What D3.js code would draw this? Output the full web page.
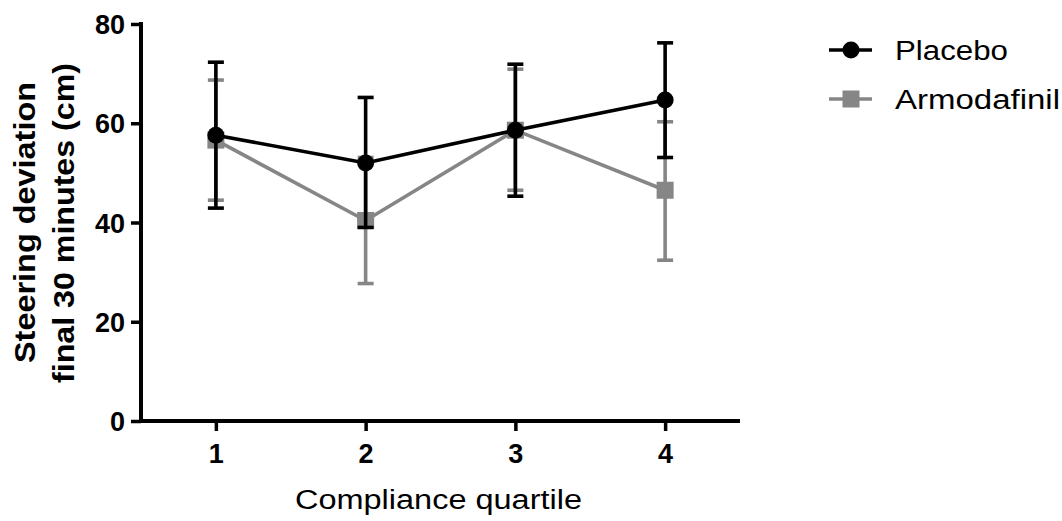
<!DOCTYPE html>
<html>
<head>
<meta charset="utf-8">
<script src="https://cdn.jsdelivr.net/npm/d3@7"></script>
<style>
  body { margin: 0; background: #fff; }
  svg { font-family: Arial, "Liberation Sans", sans-serif; }
</style>
</head>
<body>
<svg></svg>
<script>
// data
let quartiles = [1, 2, 3, 4]
let placeboMean = [57.6, 52.0, 58.6, 64.7]
let placeboLow = [42.9, 39.0, 45.3, 53.1]
let placeboHigh = [72.3, 65.2, 71.9, 76.2]
let armoMean = [56.6, 40.4, 58.6, 46.5]
let armoLow = [44.5, 27.7, 46.5, 32.4]
let armoHigh = [68.7, 53.1, 70.9, 60.3]
let yTicks = [0, 20, 40, 60, 80]

let width = 1062
let height = 521
let plotLeft = 141
let plotRight = 740
let plotTop = 24
let plotBottom = 421

let black = '#000'
let grey = '#868686'
let lw = 3.6

let svg = d3.select('svg')
  .attr('width', width)
  .attr('height', height)

let xScale = d3.scaleLinear()
  .domain([0.5, 4.5])
  .range([plotLeft, plotRight])

let yScale = d3.scaleLinear()
  .domain([0, 80])
  .range([plotBottom, plotTop])

// axes
let xAxis = d3.axisBottom(xScale)
  .tickValues(quartiles)
  .tickFormat(d3.format('d'))
  .tickSizeOuter(0)
  .tickSize(10)
  .tickPadding(13)

let yAxis = d3.axisLeft(yScale)
  .tickValues(yTicks)
  .tickSizeOuter(0)
  .tickSize(10)
  .tickPadding(6)

let gx = svg.append('g')
  .attr('transform', 'translate(0,' + plotBottom + ')')
  .call(xAxis)

let gy = svg.append('g')
  .attr('transform', 'translate(' + plotLeft + ',0)')
  .call(yAxis)

;[gx, gy].forEach(g => {
  g.select('.domain').attr('stroke', black).attr('stroke-width', 4)
  g.selectAll('.tick line').attr('stroke', black).attr('stroke-width', 3.5)
  g.selectAll('.tick text')
    .attr('fill', black)
    .style('font-size', '27px')
    .style('font-weight', 'bold')
})
gy.select('.domain').attr('d', 'M0,' + (plotBottom + 2) + 'V' + (plotTop - 2))
gx.select('.domain').attr('d', 'M' + (plotLeft - 2) + ',0H' + plotRight)
gy.selectAll('.tick text').attr('dy', '0.36em')

// axis titles
svg.append('text')
  .attr('x', 295)
  .attr('y', 509)
  .attr('textLength', 287)
  .attr('lengthAdjust', 'spacingAndGlyphs')
  .style('font-size', '27px')
  .text('Compliance quartile')

let yTitle = svg.append('text')
  .attr('transform', 'translate(0,223) rotate(-90)')
  .style('font-size', '29px')
  .style('font-weight', 'bold')
yTitle.append('tspan').attr('x', -140).attr('y', 35)
  .attr('textLength', 281).attr('lengthAdjust', 'spacingAndGlyphs')
  .text('Steering deviation')
let yTitle2 = svg.append('text')
  .attr('transform', 'translate(0,223) rotate(-90)')
  .style('font-size', '29px')
  .style('font-weight', 'bold')
yTitle2.append('tspan').attr('x', -160).attr('y', 74)
  .attr('textLength', 320).attr('lengthAdjust', 'spacingAndGlyphs')
  .text('final 30 minutes (cm)')

// series
let series = [
  { name: 'Armodafinil', color: grey, mean: armoMean, low: armoLow, high: armoHigh, shape: 'square', labelW: 165 },
  { name: 'Placebo', color: black, mean: placeboMean, low: placeboLow, high: placeboHigh, shape: 'circle', labelW: 113 }
]

let line = d3.line()
  .x((d, i) => xScale(quartiles[i]))
  .y(d => yScale(d))

let capW = 8

series.forEach(s => {
  let g = svg.append('g')
  // error bars
  quartiles.forEach((q, i) => {
    let x = xScale(q)
    g.append('line')
      .attr('x1', x).attr('x2', x)
      .attr('y1', yScale(s.low[i])).attr('y2', yScale(s.high[i]))
      .attr('stroke', s.color).attr('stroke-width', lw)
    ;[s.low[i], s.high[i]].forEach(v => {
      g.append('line')
        .attr('x1', x - capW).attr('x2', x + capW)
        .attr('y1', yScale(v)).attr('y2', yScale(v))
        .attr('stroke', s.color).attr('stroke-width', lw)
    })
  })
  g.append('path')
    .datum(s.mean)
    .attr('d', line)
    .attr('fill', 'none')
    .attr('stroke', s.color)
    .attr('stroke-width', lw)
  quartiles.forEach((q, i) => {
    drawMarker(g, s.shape, xScale(q), yScale(s.mean[i]), s.color)
  })
})

function drawMarker(g, shape, x, y, color) {
  if (shape === 'circle') {
    g.append('circle').attr('cx', x).attr('cy', y).attr('r', 8.5).attr('fill', color)
  } else {
    g.append('rect').attr('x', x - 8.5).attr('y', y - 8.5).attr('width', 17).attr('height', 17).attr('fill', color)
  }
}

// legend
let legend = [series[1], series[0]]
legend.forEach((s, i) => {
  let y = 50 + i * 49
  let g = svg.append('g')
  g.append('line')
    .attr('x1', 829).attr('x2', 872)
    .attr('y1', y).attr('y2', y)
    .attr('stroke', s.color).attr('stroke-width', lw)
  drawMarker(g, s.shape, 851, y, s.color)
  g.append('text')
    .attr('x', 895)
    .attr('y', y + 9.5)
    .attr('textLength', s.labelW)
    .attr('lengthAdjust', 'spacingAndGlyphs')
    .style('font-size', '27px')
    .text(s.name)
})
</script>
</body>
</html>
